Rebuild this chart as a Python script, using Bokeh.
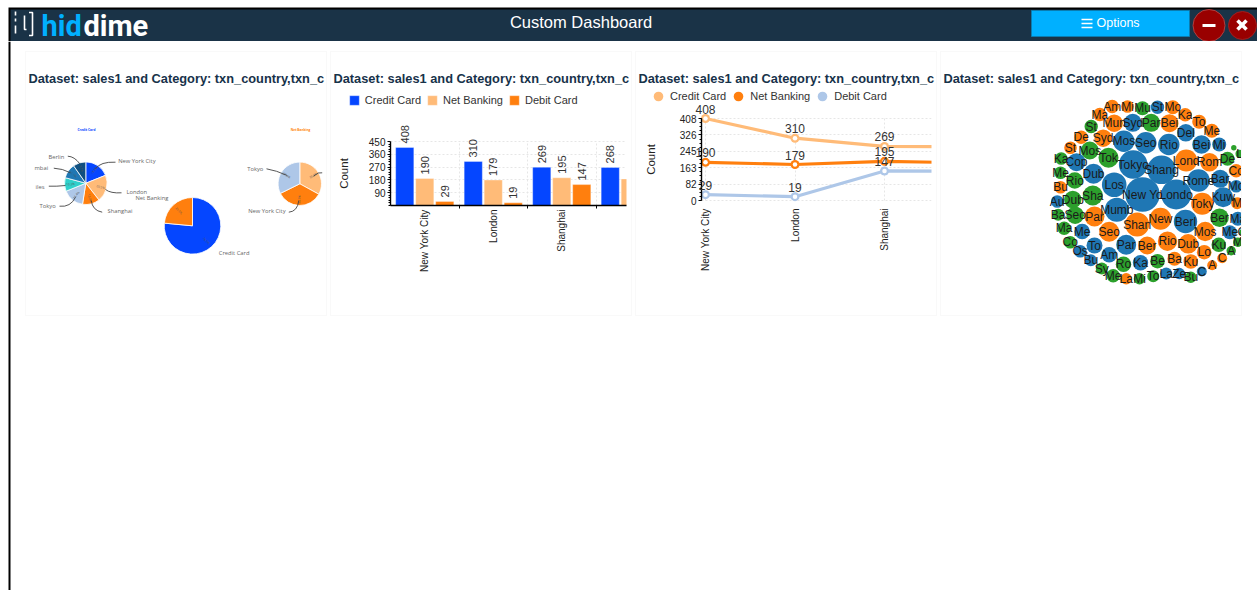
import math
from bokeh.embed import file_html
from bokeh.resources import INLINE
from bokeh.core.properties import value
from bokeh.layouts import column, row
from bokeh.models import (ColumnDataSource, FixedTicker, LabelSet, Legend, LegendItem, Range1d)
from bokeh.plotting import figure

# ---- data ----------------------------------------------------------------
CITIES = ["New York City", "London", "Shanghai", "Tokyo"]
CREDIT = [408, 310, 269, 268]
NET_BANKING = [190, 179, 195, 187]
DEBIT = [29, 19, 147, 146]
BAR_TICKS = [90, 180, 270, 360, 450]
LINE_TICKS = [0, 82, 163, 245, 326, 408]

PIE_CREDIT_LABELS = ["New York City", "London", "Shanghai", "Tokyo", "iles", "mbai", "Berlin"]
PIE_CREDIT_SHARE = [18.9, 20.5, 13.0, 16.4, 10.3, 11.1, 9.7]
PIE_NET_SHARE = [33.0, 34.7, 32.3]
PIE_TOTAL_SHARE = [76.5, 23.5]

BUBBLE_LABEL = ["Am", "Mi", "Mu", "St", "Mo", "Ma", "Ka", "St", "Mun", "Syd", "Par", "Bei", "To", "Me", "Del", "De",
                "Syd", "Mos", "Seo", "Rio", "Bei", "Mi", "St", "Mos", "Tok", "Tokyo", "Shang", "Lond", "Rom", "De", "",
                "L", "Ka", "Cop", "Dub", "Me", "Rio", "Co", "Bar", "Rome", "Bu", "Los", "Mo", "New Yo", "Londo", "Au",
                "Dub", "Sha", "Toky", "Kuw", "M", "Mumb", "Ba", "Seo", "Par", "Ber", "Ma", "Berl", "New", "Shan", "Ma",
                "Me", "Seo", "Mos", "Me", "G", "Co", "To", "Par", "Ber", "Rio", "Dub", "Ku", "M", "Os", "Lo", "Am", "A",
                "C", "A", "Bu", "Ro", "Ka", "Be", "Ba", "Ku", "Sy", "Me", "La", "Mi", "To", "La", "Ze", "Bu", "C"]
BUBBLE_GROUP = list("oogbooogobgooob" "oobbbbbogg" "bboogggg" "bbggobbobb" "bbbggobobg"
                    "gogbboogbo" "obggbbooog" "gbobgoobgb" "googgoggbbgb")
BUBBLE_X = [1111.7, 1127, 1142, 1157, 1172.3, 1099.3, 1184.7, 1090.7, 1113.7, 1132.3, 1150.7, 1169, 1198.7, 1211.3,
            1185.3, 1080.7, 1102.7, 1123.3, 1145.3, 1168.3, 1201, 1218.7, 1070, 1089.3, 1108, 1132.7, 1161, 1185.7,
            1209, 1227, 1233.3, 1239, 1060.7, 1076, 1093, 1060, 1074.3, 1235.7, 1219.7, 1198, 1060, 1113.7, 1235.7,
            1142, 1175.7, 1056.7, 1072.3, 1092.3, 1201.7, 1222.7, 1236.7, 1116.3, 1057.7, 1074.7, 1094, 1219, 1237.3,
            1185, 1160, 1136.7, 1063.7, 1081.7, 1108.7, 1204.7, 1229.3, 1241.7, 1069.7, 1094, 1125.7, 1146.7, 1167,
            1187.7, 1218.3, 1237.3, 1079.7, 1203.7, 1108.7, 1230.7, 1221.7, 1211.7, 1090.3, 1123, 1140, 1157, 1174,
            1190.3, 1101.3, 1112.7, 1125.7, 1139, 1152.7, 1165.7, 1178.7, 1190.3, 1201.3]
BUBBLE_Y = [106, 106, 107.7, 106.7, 106.7, 114, 114.3, 126, 122.7, 122.3, 122.3, 122.7, 121.3, 130.3, 132.3, 136.7,
            137.7, 140.7, 142.3, 144, 144, 144, 147.3, 150, 157.3, 164, 169.3, 160, 161.7, 158.3, 147.3, 153.3, 158,
            161.7, 173.3, 172.3, 180, 170.3, 178.3, 180, 186.7, 184.3, 185.7, 194, 194, 201, 199, 195, 203.3, 196.7,
            202.7, 209.3, 214.3, 214.7, 216, 217.3, 218.3, 221, 218.3, 224, 227.7, 231, 231.3, 231, 231.7, 231.7,
            241.7, 245, 244.3, 245, 240.7, 243.3, 244.3, 241.7, 250.7, 251.7, 254.3, 250.3, 257.7, 264.7, 259.7,
            263.7, 262.3, 260.7, 258.3, 261, 268, 275.3, 278.3, 278.3, 275.7, 273, 273, 276.7, 271]
BUBBLE_R = [6.7, 6.3, 7, 6.7, 7, 6.7, 6.7, 6.7, 8.7, 9, 9, 9, 7, 7, 8.7, 6.7, 8.7, 10.7, 10.7, 10.7, 9.3, 7, 6.3, 9,
            10, 14.3, 14.3, 11, 9.3, 7, 2.7, 4, 6.3, 9, 10, 6.3, 8.3, 6.7, 9, 11.3, 6.3, 12.3, 6.3, 17.3, 15, 6.3,
            8.7, 10, 11, 10, 6, 12, 6, 8.7, 10, 9.3, 7, 11.7, 11, 12, 6.7, 7.7, 10, 9.7, 7, 3, 6.3, 8, 10, 9, 9.7,
            9.7, 7.3, 4.7, 6.3, 7.3, 7.7, 4.7, 5, 5, 6, 7.7, 7.7, 7.3, 7, 7.3, 6, 6.7, 5.7, 5.7, 6, 6, 5.7, 5.7, 5]

# ---- styles --------------------------------------------------------------
SANS = "Liberation Sans"
BLUE, PEACH, ORANGE = "#0546ff", "#ffbb78", "#ff7f0e"
SKY, TEAL, STEEL, NAVY = "#aec7e8", "#2fd0cb", "#1f77b4", "#0f4f80"
GROUP_COLOR = {"b": "#1f77b4", "o": "#ff7f0e", "g": "#2ca02c"}
TITLE = "Dataset: sales1 and Category: txn_country,txn_c"
GRID = "#e6e6e6"
BAND = "#1a3347"
PANEL_TOP, PANEL_BOTTOM = 52, 315


def panel(left, x_range, y_range, gap):
    """A 300 x 263 card whose frame fills the card; page pixels are kept as an extra pair of ranges."""
    p = figure(width=300, height=263, x_range=x_range, y_range=y_range, output_backend="svg",
               toolbar_location=None, min_border=0, frame_align=False, margin=(11, 0, 0, gap),
               styles={"outline": "1px solid #f9f9f9"})
    p.extra_x_ranges = {"px": Range1d(left, left + 300)}
    p.extra_y_ranges = {"px": Range1d(PANEL_BOTTOM, PANEL_TOP)}
    p.outline_line_color = None
    p.text(x=[left + 2], y=[78], text=[TITLE], x_range_name="px", y_range_name="px", text_font=value(SANS),
           text_font_size="12.8px", text_font_style="bold", text_color="#17324a", text_baseline="middle")
    return p


def blank(p):
    p.axis.visible = False
    p.grid.visible = False
    return p


def style_y_axis(ax, standoff):
    ax.axis_label = "Count"
    ax.axis_label_text_font = SANS
    ax.axis_label_text_font_size = "11.5px"
    ax.axis_label_text_font_style = "normal"
    ax.axis_label_text_color = "#222222"
    ax.axis_label_standoff = standoff
    ax.axis_line_color = "black"
    ax.axis_line_width = 1.4
    ax.major_tick_in = 0
    ax.major_tick_out = 3
    ax.minor_tick_in = 0
    ax.minor_tick_out = 2
    ax.major_label_standoff = 2


def style_labels(ax):
    ax.major_label_text_font = SANS
    ax.major_label_text_font_size = "10px"
    ax.major_label_text_color = "#222222"


def top_legend(items, left, bottom, glyph, standoff, gap):
    return Legend(items=items, location=(left, bottom), orientation="horizontal", glyph_width=glyph,
                  glyph_height=glyph, label_standoff=standoff, spacing=gap, padding=0, margin=0,
                  border_line_color=None, background_fill_alpha=0, label_text_font=SANS,
                  label_text_font_size="11px", label_text_color="#333333", label_height=12)


# ---- header band ---------------------------------------------------------
head = figure(width=1257, height=41, x_range=Range1d(0, 1257), y_range=Range1d(41, 0), output_backend="svg",
              toolbar_location=None, min_border=0, frame_align=False, margin=(0, 0, 0, 0))
blank(head)
head.outline_line_color = None
head.quad(left=[8], right=[1257], top=[7], bottom=[41], fill_color="black", line_color=None)
head.quad(left=[10], right=[1257], top=[9], bottom=[41], fill_color=BAND, line_color=None)
head.multi_line(xs=[[15, 15], [15, 15], [15, 15], [24, 24, 26], [28.5, 32, 32, 28.5]],
                ys=[[11, 15], [18, 21], [25, 33], [15, 29, 29], [12, 12, 35, 35]],
                line_color="white", line_width=1.6)
head.text(x=[41], y=[25], text=["hid"], text_font=value("Roboto"), text_font_size="29px",
          text_font_style="bold", text_color="#00b0ff", text_baseline="middle")
head.text(x=[83], y=[25], text=["dime"], text_font=value("Roboto"), text_font_size="29px",
          text_font_style="bold", text_color="white", text_baseline="middle")
head.text(x=[580.5], y=[21], text=["Custom Dashboard"], text_font=value(SANS), text_font_size="16.5px",
          text_color="white", text_align="center", text_baseline="middle")
head.quad(left=[1031], right=[1189], top=[10], bottom=[36], fill_color="#00b0ff", line_color="#0a7cb0")
head.multi_line(xs=[[1081, 1092]] * 3, ys=[[19, 19], [23, 23], [27, 27]], line_color="white", line_width=1.7)
head.text(x=[1096], y=[22.5], text=["Options"], text_font=value(SANS), text_font_size="12.5px", text_color="white",
          text_baseline="middle")
head.circle(x=[1208.5], y=[25], radius=16, fill_color="#990000", line_color="#b04040", line_width=1)
head.circle(x=[1242], y=[25], radius=14, fill_color="#990000", line_color="#a02020", line_width=1)
head.segment(x0=[1202], y0=[25], x1=[1215], y1=[25], line_color="white", line_width=3)
head.segment(x0=[1237, 1237], y0=[20, 29], x1=[1246, 1246], y1=[29, 20], line_color="white", line_width=3.5)

# ---- left page rule ------------------------------------------------------
rule = figure(width=26, height=549, x_range=Range1d(0, 26), y_range=Range1d(0, 1), output_backend="svg",
              toolbar_location=None, min_border=0, frame_align=False, margin=(0, 0, 0, 0))
blank(rule)
rule.outline_line_color = None
rule.quad(left=[8], right=[10], top=[1], bottom=[0], fill_color="black", line_color=None)


# ---- panel 1: three pies -------------------------------------------------
def draw_pie(p, cx, cy, radius, shares, colors):
    a = 0.0
    total = sum(shares)
    for share, color in zip(shares, colors):
        b = a + share / total * 2 * math.pi
        p.wedge(x=[cx], y=[cy], radius=radius, start_angle=math.pi / 2 - a, end_angle=math.pi / 2 - b,
                direction="clock", fill_color=color, line_color="white", line_width=0.8)
        mid = (a + b) / 2
        rot = math.pi / 2 - mid
        if math.cos(rot) < 0:
            rot += math.pi
        p.text(x=[cx + 0.72 * radius * math.sin(mid)], y=[cy - 0.72 * radius * math.cos(mid)],
               text=[f"{share:.1f}%"], angle=[rot], text_font=value("Open Sans"), text_font_size="3px",
               text_color="#555555", text_align="center", text_baseline="middle")
        a = b


def leaders(p, x0, y0, x1, y1, cx, cy):
    p.quadratic(x0=x0, y0=y0, x1=x1, y1=y1, cx=cx, cy=cy, line_color="#444444", line_width=0.9)


pies = blank(panel(26, Range1d(26, 326), Range1d(PANEL_BOTTOM, PANEL_TOP), 0))
draw_pie(pies, 85.3, 182.7, 21.3, PIE_CREDIT_SHARE, [BLUE, PEACH, ORANGE, SKY, TEAL, STEEL, NAVY])
draw_pie(pies, 299.3, 183.3, 21.7, PIE_NET_SHARE, [PEACH, ORANGE, SKY])
draw_pie(pies, 192, 225.3, 28.3, PIE_TOTAL_SHARE, [BLUE, ORANGE])
leaders(pies, [115, 121, 101.7, 59, 48.3, 53.3, 67.3, 321.7, 266, 288.3],
        [161.7, 192.3, 211.7, 205.7, 185.7, 167.7, 155.7, 172.3, 168.3, 211.7],
        [95, 105, 90.7, 75, 65, 70, 79.3, 313, 286.7, 298.3],
        [168.3, 189, 200, 196.7, 185, 172.3, 163.3, 175.7, 175, 200],
        [100, 110, 92, 70, 56, 62, 74, 318, 276, 297],
        [161, 193, 210, 207, 186, 168, 156, 171, 170, 211])
pie_label_x = [117.7, 126, 107, 39, 35, 34, 48, 246.7, 247.7, 135, 218.3]
pie_label_y = [160.7, 191.7, 210, 205.7, 186, 167, 156, 168, 210.7, 197.7, 252.3]
pie_label_text = PIE_CREDIT_LABELS + ["Tokyo", "New York City", "Net Banking", "Credit Card"]
pies.text(x=pie_label_x, y=pie_label_y, text=pie_label_text, text_font=value("Open Sans"), text_font_size="5.8px",
          text_color="#666666", text_baseline="middle")
pies.text(x=[86, 300], y=[129.5, 129.5], text=["Credit Card", "Net Banking"], text_font=value("Open Sans"),
          text_font_size="3.2px", text_font_style="bold", text_color=[BLUE, ORANGE], text_align="center",
          text_baseline="middle")

# ---- panel 2: grouped bars ------------------------------------------------
GROUP_PX = 68.5
COUNT_PX = 64 / 450
BAR_END = 236 / GROUP_PX
bars = panel(331, Range1d(-59 / GROUP_PX, 241 / GROUP_PX),
             Range1d(-110 / COUNT_PX, 153 / COUNT_PX), 5)
centers = [i + 0.5 for i in range(len(CITIES))]
legend_items = []
bar_labels = []
for offset, series, color, name in [(-0.292, CREDIT, BLUE, "Credit Card"), (0, NET_BANKING, PEACH, "Net Banking"),
                                    (0.292, DEBIT, ORANGE, "Debit Card")]:
    xs = [c + offset for c in centers]
    r = bars.vbar(x=xs, top=series, width=0.265, fill_color=color, line_color="white", line_alpha=0.35)
    legend_items.append(LegendItem(label=name, renderers=[r]))
    bar_labels += [(x, v) for x, v in zip(xs, series) if x < 3.3]
# the plot area stops short of the card edge: mask what runs past it, below the title
bars.quad(left=[626], right=[631], top=[PANEL_BOTTOM], bottom=[90], x_range_name="px", y_range_name="px",
          fill_color="white", line_color=None)
bars.add_layout(LabelSet(x="x", y="y", text="t", source=ColumnDataSource(dict(
    x=[b[0] for b in bar_labels], y=[b[1] for b in bar_labels], t=[str(b[1]) for b in bar_labels])),
    angle=90, angle_units="deg", y_offset=4, text_align="left", text_baseline="middle",
    text_font=value(SANS), text_font_size="11px", text_color="#333333"))
style_y_axis(bars.yaxis[0], 16)
bars.yaxis.fixed_location = 0
bars.yaxis.bounds = (0, 450)
bars.yaxis.ticker = FixedTicker(ticks=BAR_TICKS, minor_ticks=list(range(0, 450, 18)))
bars.xaxis.fixed_location = 0
bars.xaxis.bounds = (0, BAR_END)
bars.xaxis.ticker = FixedTicker(ticks=centers[:3], minor_ticks=[1, 2, 3])
bars.xaxis.major_label_overrides = {c: n for c, n in zip(centers, CITIES)}
bars.xaxis.major_tick_line_color = None
bars.xaxis.major_tick_in = 0
bars.xaxis.major_tick_out = 0
bars.xaxis.minor_tick_in = 0
bars.xaxis.minor_tick_out = 3
bars.xaxis.major_label_standoff = 1
bars.xaxis.axis_line_color = "black"
bars.xaxis.axis_line_width = 1.4
style_labels(bars.xaxis[0])
style_labels(bars.yaxis[0])
bars.xaxis.major_label_orientation = math.pi / 2
bars.ygrid.ticker = FixedTicker(ticks=BAR_TICKS)
bars.ygrid.cross_bounds = (0, BAR_END)
bars.xgrid.ticker = FixedTicker(ticks=[1, 2, 3])
bars.xgrid.cross_bounds = (0, 450)
bars.grid.grid_line_color = GRID
bars.grid.grid_line_dash = "2 2"
bars.add_layout(top_legend(legend_items, 16.8, 209, 12, 5, 5))

# ---- panel 3: lines -------------------------------------------------------
STEP = 89.5
LINE_PX = 82 / 408
AXIS_X = -4 / STEP
LINE_END = 226 / STEP
lines = panel(636, Range1d(-69 / STEP, 231 / STEP), Range1d(-115 / LINE_PX, 148 / LINE_PX), 5)
idx = list(range(len(CITIES)))
legend_items = []
for series, color, name in [(CREDIT, PEACH, "Credit Card"), (NET_BANKING, ORANGE, "Net Banking"),
                            (DEBIT, SKY, "Debit Card")]:
    lines.line(x=idx, y=series, line_color=color, line_width=3.2)
    disc = lines.scatter(x=idx, y=series, size=9, fill_color=color, line_color=color, line_width=0)
    lines.scatter(x=idx, y=series, size=4.5, fill_color="white", line_color=None)
    legend_items.append(LegendItem(label=name, renderers=[disc]))
    lines.add_layout(LabelSet(x="x", y="y", text="t", source=ColumnDataSource(dict(
        x=idx[:3], y=series[:3], t=[str(v) for v in series[:3]])), y_offset=5, text_align="center",
        text_baseline="bottom", text_font=value(SANS), text_font_size="12px", text_color="#333333"))
lines.quad(left=[931], right=[936], top=[PANEL_BOTTOM], bottom=[90], x_range_name="px", y_range_name="px",
           fill_color="white", line_color=None)
style_y_axis(lines.yaxis[0], 20)
lines.yaxis.fixed_location = AXIS_X
lines.yaxis.bounds = (0, 408)
lines.yaxis.ticker = FixedTicker(ticks=LINE_TICKS, minor_ticks=[t * 408 / 20 for t in range(21)])
lines.xaxis.fixed_location = 0
lines.xaxis.ticker = FixedTicker(ticks=idx[:3])
lines.xaxis.bounds = (AXIS_X, LINE_END)
lines.xaxis.major_label_overrides = {i: n for i, n in enumerate(CITIES)}
lines.xaxis.axis_line_color = None
lines.xaxis.major_tick_line_color = None
lines.xaxis.major_tick_in = 0
lines.xaxis.major_tick_out = 0
lines.xaxis.minor_tick_line_color = None
style_labels(lines.xaxis[0])
style_labels(lines.yaxis[0])
lines.xaxis.major_label_orientation = math.pi / 2
lines.xaxis.major_label_standoff = 8
lines.ygrid.ticker = FixedTicker(ticks=LINE_TICKS)
lines.ygrid.cross_bounds = (AXIS_X, LINE_END)
lines.xgrid.ticker = FixedTicker(ticks=idx[:3])
lines.xgrid.cross_bounds = (0, 408)
lines.grid.grid_line_color = GRID
lines.grid.grid_line_dash = "2 2"
# marker keys scale with the glyph box, so the box is wide and the gaps stay tight
lines.add_layout(top_legend(legend_items, 10, 207.3, 24, 0, 0))

# ---- panel 4: bubble pack --------------------------------------------------
pack = blank(panel(941, Range1d(941, 1241), Range1d(PANEL_BOTTOM, PANEL_TOP), 5))
pack.circle(x=BUBBLE_X, y=BUBBLE_Y, radius=BUBBLE_R, fill_color=[GROUP_COLOR[g] for g in BUBBLE_GROUP],
            line_color=None)
pack.text(x=BUBBLE_X, y=BUBBLE_Y, text=BUBBLE_LABEL, text_font=value(SANS), text_font_size="12px",
          text_color="#1a1a1a", text_align="center", text_baseline="middle")

body = row(rule, pies, bars, lines, pack, spacing=0)
page = column(head, body, spacing=0)
open("out.html", "w").write(file_html(page, INLINE))
